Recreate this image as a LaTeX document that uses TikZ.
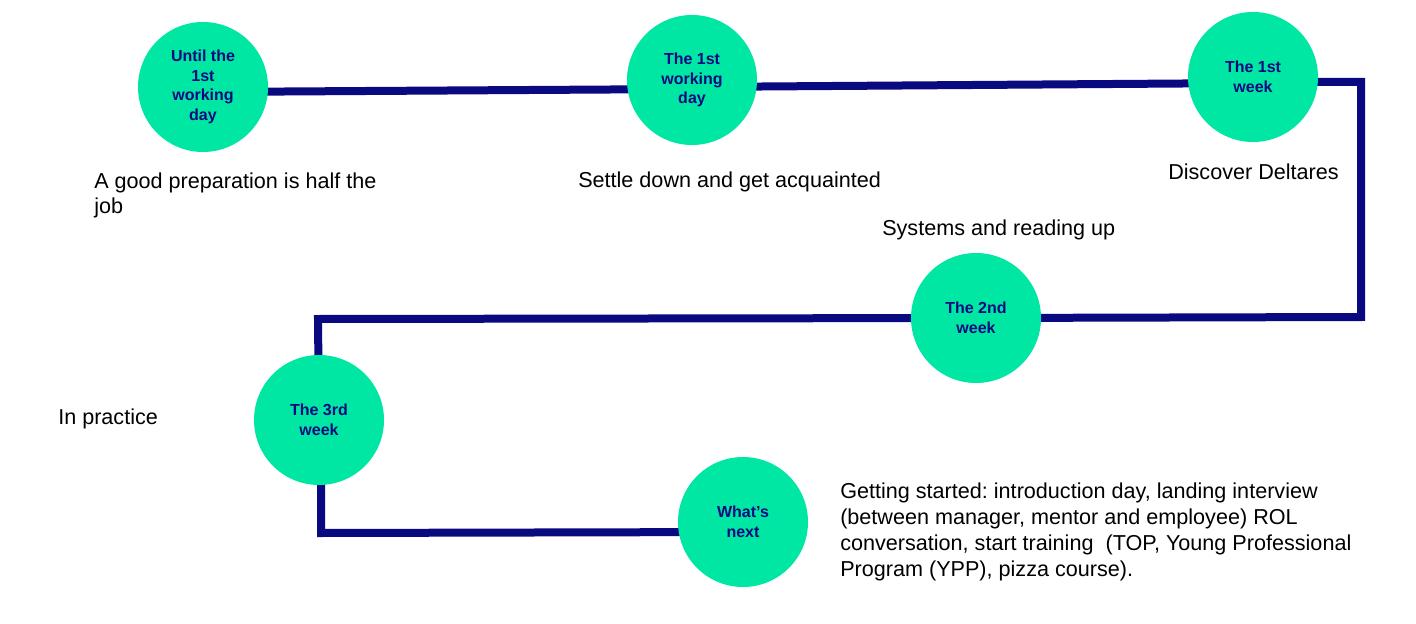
\documentclass[tikz,border=0pt]{standalone}
\usepackage{fontspec}
\setmainfont{Liberation Sans}
\usetikzlibrary{backgrounds}
\frenchspacing

\definecolor{mint}{RGB}{0,230,163}
\definecolor{navy}{RGB}{10,10,128}

\tikzset{
  stage/.style={circle, fill=mint, minimum size=97.5pt, inner sep=0pt, align=center,
    text=navy, font=\fontsize{12}{14.6}\selectfont\bfseries},
  note/.style={inner sep=0pt, align=left, anchor=base west, font=\fontsize{16.2}{19.5}\selectfont},
  track/.style={draw=navy, line width=6pt}
}

\begin{document}
\begin{tikzpicture}[x=0.75pt, y=-0.75pt]
        \useasboundingbox (0,0) rectangle (1416,624);

        \node [stage] (until) at (203,87) {Until the\\1st\\working\\day};
        \node [stage] (firstday) at (692,80) {The 1st\\working\\day};
        \node [stage] (firstweek) at (1253,77) {The 1st\\week};
        \node [stage] (secondweek) at (976,318) {The 2nd\\week};
        \node [stage] (thirdweek) at (319,420) {The 3rd\\week};
        \node [stage] (next) at (743,522) {What’s\\next};

        \coordinate (turn1) at (1361,82);
        \coordinate (turn2) at (1361,317);
        \coordinate (turn3) at (318,319);
        \coordinate (turn4) at (321,533);

        % multi-line notes sit on the baseline of their last line
        \node [note] (prep) at (94,214) {A good preparation is half the\\job};
        \node [note] (settle) at (578,187) {Settle down and get acquainted};
        \node [note] (discover) at (1168,180) {Discover Deltares};
        \node [note] (systems) at (882,235) {Systems and reading up};
        \node [note] (practice) at (58,424) {In practice};
        \node [note] (started) at (840,576) {Getting started: introduction day, landing interview\\(between manager, mentor and employee) ROL\\conversation, start training\ \ (TOP, Young Professional\\Program (YPP), pizza course).};

        \begin{scope}[on background layer]
            \draw [track] ([yshift=-3.75pt]until.center) -- ([yshift=-6.75pt]firstday.center);
            \draw [track] ([yshift=-5.25pt]firstday.center) -- ([yshift=-4.5pt]firstweek.center);
            \draw [track] ([yshift=-3.75pt]firstweek.center) -- (turn1) -- (turn2) -- (secondweek.center);
            \draw [track] (secondweek.center) -- (turn3) -- (thirdweek.center);
            \draw [track] ([xshift=1.5pt]thirdweek.center) -- (turn4) -- ([yshift=-7.5pt]next.center);
        \end{scope}
    \end{tikzpicture}
\end{document}
